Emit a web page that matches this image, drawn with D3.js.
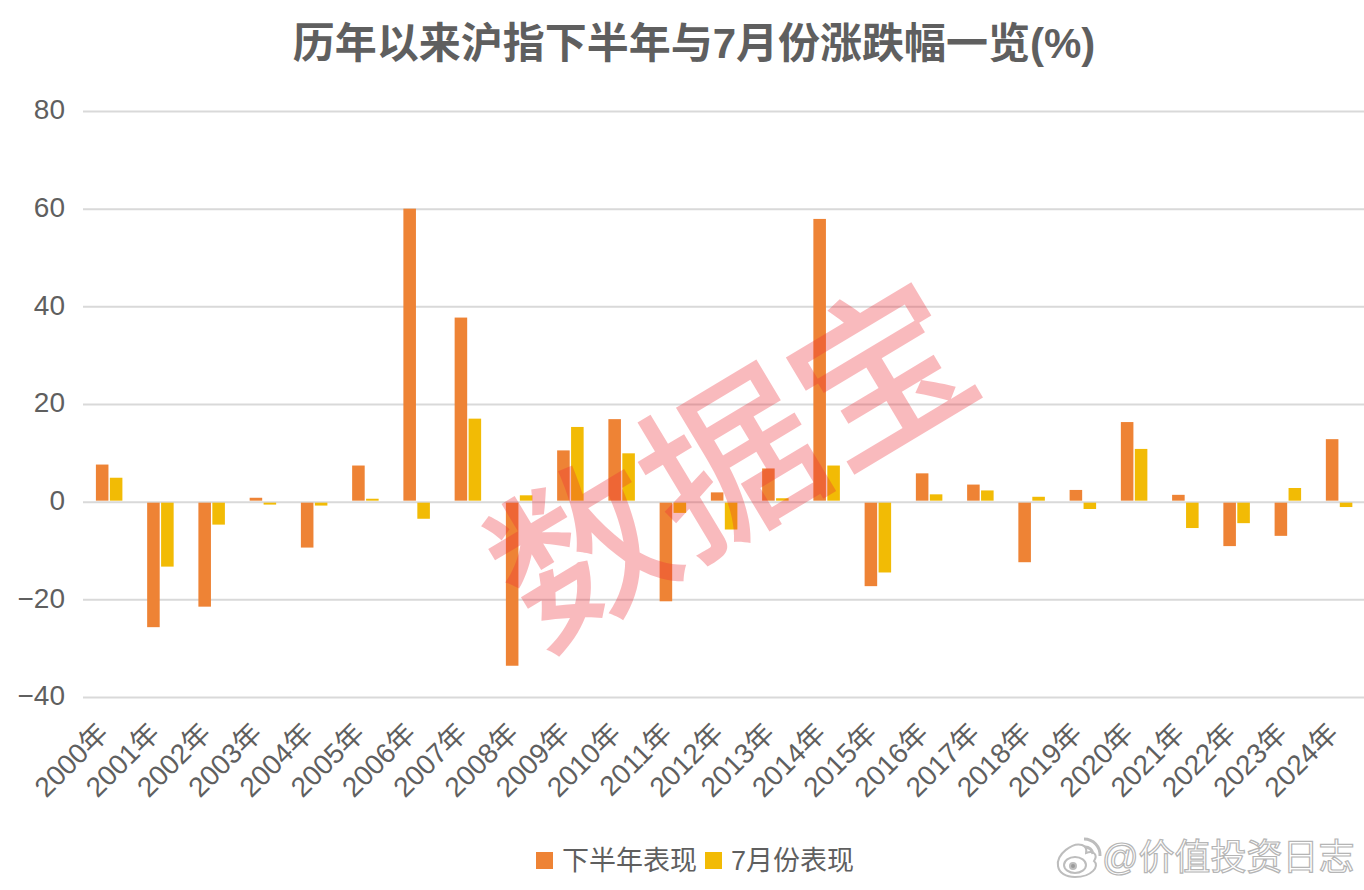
<!DOCTYPE html>
<html>
<head>
<meta charset="utf-8">
<script src="https://cdn.jsdelivr.net/npm/d3@7"></script>
<style>
  html, body { margin: 0; background: #fff; }
  svg { display: block; }
  text { font-family: "Liberation Sans", "Noto Sans CJK SC", sans-serif; fill: #5f5f5f; }
</style>
</head>
<body>
<svg id="chart" width="1364" height="890"></svg>
<script>
var years = ["2000年", "2001年", "2002年", "2003年", "2004年", "2005年", "2006年", "2007年", "2008年", "2009年",
  "2010年", "2011年", "2012年", "2013年", "2014年", "2015年", "2016年", "2017年", "2018年", "2019年",
  "2020年", "2021年", "2022年", "2023年", "2024年"];
var secondHalf = [7.6, -25.7, -21.5, 0.8, -9.4, 7.4, 60, 37.7, -33.6, 10.5,
  16.9, -20.4, 1.9, 6.8, 57.9, -17.3, 5.8, 3.5, -12.4, 2.4,
  16.3, 1.4, -9.1, -7, 12.8];
var july = [4.9, -13.3, -4.7, -0.6, -0.8, 0.6, -3.5, 17, 1.3, 15.3,
  9.9, -2.3, -5.7, 0.7, 7.4, -14.5, 1.5, 2.3, 1, -1.5,
  10.8, -5.4, -4.4, 2.8, -1.1];
var yTicks = [-40, -20, 0, 20, 40, 60, 80];
var seriesNames = ["下半年表现", "7月份表现"];
var seriesColors = ["#ee8335", "#f2bb05"];

var svg = d3.select("#chart");

var x = d3.scaleBand().domain(years).range([83.4, 1364.6]);
var xInner = d3.scaleBand().domain([0, 1]).range([12.5, 39]).paddingInner(0.1);
var y = d3.scaleLinear().domain([-40, 80]).range([697, 111]);

svg.append("text")
  .attr("x", 694)
  .attr("y", 58)
  .attr("text-anchor", "middle")
  .attr("font-size", 42)
  .attr("font-weight", 700)
  .text("历年以来沪指下半年与7月份涨跌幅一览(%)");

// grid lines come from the y axis ticks
var yAxis = svg.append("g")
  .attr("transform", "translate(83,0)")
  .call(d3.axisLeft(y).tickValues(yTicks).tickSize(-1281).tickPadding(18).tickFormat(function(d) {
    return d < 0 ? "−" + Math.abs(d) : d;
  }));
yAxis.select(".domain").remove();
yAxis.selectAll("line").attr("stroke", "#d9d9d9").attr("stroke-width", 2);
yAxis.selectAll("text").attr("font-size", 28).attr("y", -1).style("font-family", null).attr("fill", "#5f5f5f");

var groups = svg.append("g")
  .selectAll("g")
  .data(years)
  .enter().append("g")
    .attr("transform", function(d) { return "translate(" + x(d) + ",0)"; });

groups.selectAll("rect")
  .data(function(d, i) { return [secondHalf[i], july[i]]; })
  .enter().append("rect")
    .attr("x", function(d, i) { return xInner(i); })
    .attr("width", xInner.bandwidth())
    .attr("y", function(d) { return d > 0 ? y(d) : y(0) + 1; })
    .attr("height", function(d) { return d > 0 ? y(0) - y(d) - 1 : y(d) - y(0) - 1; })
    .attr("fill", function(d, i) { return seriesColors[i]; });

var xAxis = svg.append("g")
  .attr("transform", "translate(0,697)")
  .call(d3.axisBottom(x).tickSize(0));
xAxis.select(".domain").remove();
xAxis.selectAll("text")
  .attr("font-size", 28)
  .attr("fill", "#5f5f5f")
  .attr("text-anchor", "end")
  .attr("dx", 0)
  .attr("dy", 0)
  .attr("y", 0)
  .attr("transform", "translate(1,38) rotate(-45)");

var legend = svg.append("g").attr("transform", "translate(0,860)");
var legendX = [536, 705];
legend.selectAll("rect")
  .data(seriesNames)
  .enter().append("rect")
    .attr("x", function(d, i) { return legendX[i]; })
    .attr("y", -8)
    .attr("width", 17)
    .attr("height", 17)
    .attr("fill", function(d, i) { return seriesColors[i]; });
legend.selectAll("text")
  .data(seriesNames)
  .enter().append("text")
    .attr("x", function(d, i) { return legendX[i] + 26; })
    .attr("y", 10)
    .attr("font-size", 27)
    .text(function(d) { return d; });

// red site stamp across the plot
svg.append("text")
  .attr("transform", "translate(740,477) rotate(-31)")
  .attr("text-anchor", "middle")
  .attr("dominant-baseline", "middle")
  .attr("font-size", 174)
  .attr("font-weight", 500)
  .style("fill", "#ee2b36")
  .style("font-family", "'Noto Sans CJK SC'")
  .attr("opacity", 0.32)
  .text("数据宝");

// weibo mark bottom right
var mark = svg.append("g")
  .attr("transform", "translate(0,858)")
  .attr("fill", "#fff")
  .attr("stroke", "#bdbdbd")
  .attr("stroke-width", 2);
mark.append("path").attr("d", "M1058 8C1056 -4 1073 -16 1082 -13C1088 -11 1086 -6 1086 -5C1094 -8 1098 -3 1094 3C1100 8 1092 19 1075 19C1066 19 1059 15 1058 8Z");
mark.append("ellipse").attr("cx", 1075).attr("cy", 7).attr("rx", 11).attr("ry", 8);
mark.append("circle").attr("cx", 1073).attr("cy", 8).attr("r", 3).attr("fill", "#9a9a9a");
mark.append("path").attr("fill", "none").attr("stroke-width", 3).attr("d", "M1084 -19A16 16 0 0 1 1100 -2");
mark.append("path").attr("fill", "none").attr("stroke-width", 3).attr("d", "M1085 -11A8 8 0 0 1 1093 -4");

svg.append("text")
  .attr("x", 1102)
  .attr("y", 870)
  .attr("font-size", 36)
  .style("fill", "#fff")
  .style("stroke", "#b5b5b5")
  .style("stroke-width", 1.2)
  .text("@价值投资日志");
</script>
</body>
</html>
